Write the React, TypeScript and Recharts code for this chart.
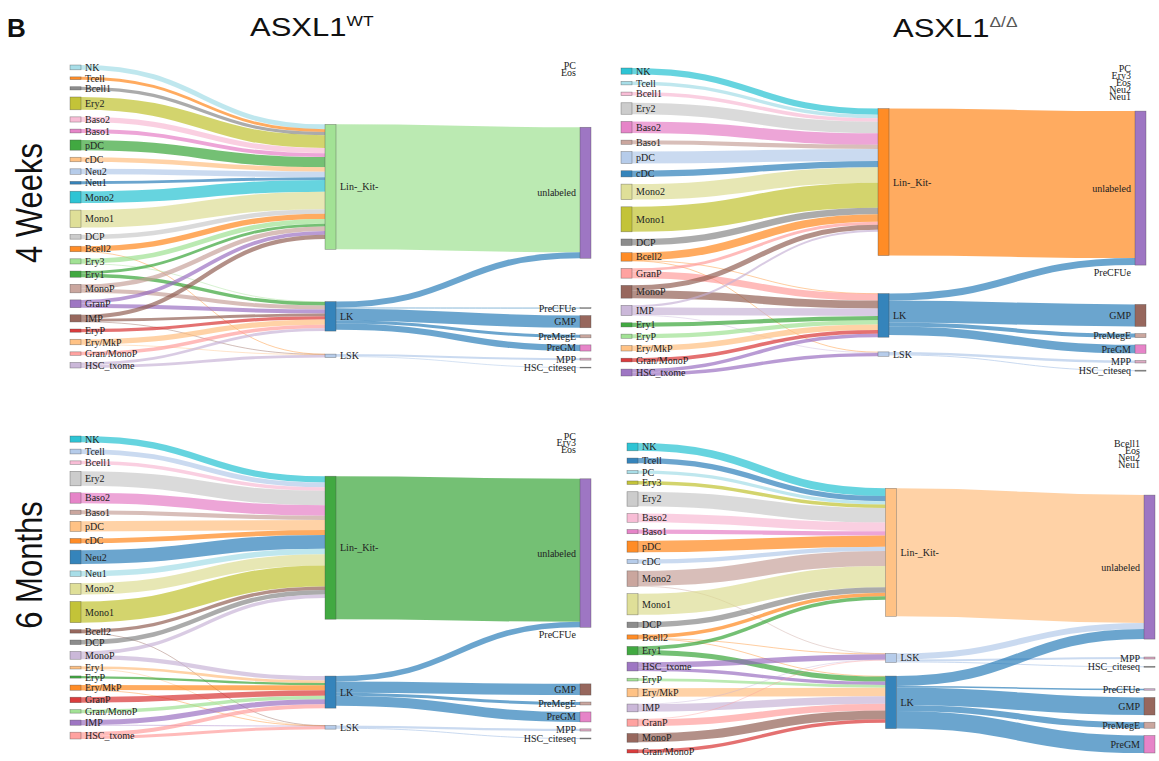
import React from 'react';
import { Sankey } from 'recharts';

// tab20 palette
const C = {
  blue: '#1f77b4', lblue: '#aec7e8', orange: '#ff7f0e', lorange: '#ffbb78',
  green: '#2ca02c', lgreen: '#98df8a', red: '#d62728', lred: '#ff9896',
  purple: '#9467bd', lpurple: '#c5b0d5', brown: '#8c564b', lbrown: '#c49c94',
  pink: '#e377c2', lpink: '#f7b6d2', gray: '#7f7f7f', lgray: '#c7c7c7',
  olive: '#bcbd22', lolive: '#dbdb8d', cyan: '#17becf', lcyan: '#9edae5',
  mpp: '#d8a2bc', precfue: '#c6a4c8',
};

type Flow = [string, string, number];

// ---------- ASXL1 WT, 4 weeks ----------
const wt4Sources = ['NK', 'Tcell', 'Bcell1', 'Ery2', 'Baso2', 'Baso1', 'pDC', 'cDC', 'Neu2', 'Neu1', 'Mono2', 'Mono1', 'DCP', 'Bcell2', 'Ery3', 'Ery1', 'MonoP', 'GranP', 'IMP', 'EryP', 'Ery/MkP', 'Gran/MonoP', 'HSC_txome'];
const wt4SourceColors = [C.lcyan, C.orange, C.gray, C.olive, C.lpink, C.pink, C.green, C.lorange, C.lblue, C.blue, C.cyan, C.lolive, C.lgray, C.orange, C.lgreen, C.green, C.lbrown, C.purple, C.brown, C.red, C.lorange, C.lred, C.lpurple];
const wt4Gates = ['Lin-_Kit-', 'LK', 'LSK'];
const wt4GateColors = [C.lgreen, C.blue, C.lblue];
const wt4Targets = ['PC', 'Eos', 'unlabeled', 'PreCFUe', 'GMP', 'PreMegE', 'PreGM', 'MPP', 'HSC_citeseq'];
const wt4TargetColors = [C.lgray, C.lgray, C.purple, C.gray, C.brown, C.lbrown, C.pink, C.mpp, C.gray];
const wt4Entry: Flow[] = [
  ['NK', 'Lin-_Kit-', 4.8], ['Tcell', 'Lin-_Kit-', 2.8], ['Bcell1', 'Lin-_Kit-', 3.2], ['Ery2', 'Lin-_Kit-', 12.8],
  ['Baso2', 'Lin-_Kit-', 5.2], ['Baso1', 'Lin-_Kit-', 3.8], ['pDC', 'Lin-_Kit-', 10.2], ['cDC', 'Lin-_Kit-', 4.5],
  ['Neu2', 'Lin-_Kit-', 5.5], ['Neu1', 'Lin-_Kit-', 2.8], ['Mono2', 'Lin-_Kit-', 11.8], ['Mono1', 'Lin-_Kit-', 17.5],
  ['DCP', 'Lin-_Kit-', 4.5], ['Bcell2', 'Lin-_Kit-', 5.3], ['Bcell2', 'LSK', 0.2], ['Ery3', 'Lin-_Kit-', 4.7],
  ['Ery3', 'LK', 0.5], ['Ery1', 'Lin-_Kit-', 2.8], ['Ery1', 'LK', 3.4], ['MonoP', 'Lin-_Kit-', 4.5], ['MonoP', 'LK', 4],
  ['GranP', 'Lin-_Kit-', 3.8], ['GranP', 'LK', 4], ['IMP', 'Lin-_Kit-', 4.2], ['IMP', 'LK', 2.8], ['IMP', 'LSK', 0.2],
  ['EryP', 'LK', 3.2], ['Ery/MkP', 'LK', 5.3], ['Ery/MkP', 'LSK', 0.2], ['Gran/MonoP', 'LK', 3.5],
  ['HSC_txome', 'LK', 2.8], ['HSC_txome', 'LSK', 2.8],
];
const wt4Exit: Flow[] = [
  ['Lin-_Kit-', 'unlabeled', 125], ['LK', 'unlabeled', 6], ['LK', 'PreCFUe', 0.8], ['LK', 'GMP', 12.2],
  ['LK', 'PreMegE', 3], ['LK', 'PreGM', 6.2], ['LSK', 'MPP', 2], ['LSK', 'HSC_citeseq', 0.8],
];

// ---------- ASXL1 Δ/Δ, 4 weeks ----------
const ko4Sources = ['NK', 'Tcell', 'Bcell1', 'Ery2', 'Baso2', 'Baso1', 'pDC', 'cDC', 'Mono2', 'Mono1', 'DCP', 'Bcell2', 'GranP', 'MonoP', 'IMP', 'Ery1', 'EryP', 'Ery/MkP', 'Gran/MonoP', 'HSC_txome'];
const ko4SourceColors = [C.cyan, C.lcyan, C.lpink, C.lgray, C.pink, C.lbrown, C.lblue, C.blue, C.lolive, C.olive, C.gray, C.orange, C.lred, C.brown, C.lpurple, C.green, C.lgreen, C.lorange, C.red, C.purple];
const ko4Gates = ['Lin-_Kit-', 'LK', 'LSK'];
const ko4GateColors = [C.orange, C.blue, C.lblue];
const ko4Targets = ['PC', 'Ery3', 'Eos', 'Neu2', 'Neu1', 'unlabeled', 'PreCFUe', 'GMP', 'PreMegE', 'PreGM', 'MPP', 'HSC_citeseq'];
const ko4TargetColors = [C.lgray, C.lgray, C.lgray, C.lgray, C.lgray, C.purple, C.gray, C.brown, C.lbrown, C.pink, C.mpp, C.gray];
const ko4Entry: Flow[] = [
  ['NK', 'Lin-_Kit-', 6.2], ['Tcell', 'Lin-_Kit-', 3.5], ['Bcell1', 'Lin-_Kit-', 3.5], ['Ery2', 'Lin-_Kit-', 11.5],
  ['Baso2', 'Lin-_Kit-', 11.5], ['Baso1', 'Lin-_Kit-', 4.2], ['pDC', 'Lin-_Kit-', 12], ['cDC', 'Lin-_Kit-', 6.2],
  ['Mono2', 'Lin-_Kit-', 15.5], ['Mono1', 'Lin-_Kit-', 25], ['DCP', 'Lin-_Kit-', 6.5],
  ['Bcell2', 'Lin-_Kit-', 7.7], ['Bcell2', 'LK', 0.25], ['Bcell2', 'LSK', 0.55],
  ['GranP', 'Lin-_Kit-', 3], ['GranP', 'LK', 6.8], ['MonoP', 'Lin-_Kit-', 5], ['MonoP', 'LK', 7.8],
  ['IMP', 'Lin-_Kit-', 2], ['IMP', 'LK', 7.7], ['IMP', 'LSK', 0.5], ['Ery1', 'LK', 4.2], ['EryP', 'LK', 4.2],
  ['Ery/MkP', 'LK', 5.5], ['Gran/MonoP', 'LK', 3.7], ['HSC_txome', 'LK', 3.5], ['HSC_txome', 'LSK', 3.4],
];
const ko4Exit: Flow[] = [
  ['Lin-_Kit-', 'unlabeled', 147], ['LK', 'unlabeled', 7], ['LK', 'GMP', 22], ['LK', 'PreMegE', 4],
  ['LK', 'PreGM', 8.5], ['LSK', 'MPP', 2.5], ['LSK', 'HSC_citeseq', 1],
];

// ---------- ASXL1 WT, 6 months ----------
const wt6Sources = ['NK', 'Tcell', 'Bcell1', 'Ery2', 'Baso2', 'Baso1', 'pDC', 'cDC', 'Neu2', 'Neu1', 'Mono2', 'Mono1', 'Bcell2', 'DCP', 'MonoP', 'Ery1', 'EryP', 'Ery/MkP', 'GranP', 'Gran/MonoP', 'IMP', 'HSC_txome'];
const wt6SourceColors = [C.cyan, C.lblue, C.lpink, C.lgray, C.pink, C.lbrown, C.lorange, C.orange, C.blue, C.lcyan, C.lolive, C.olive, C.brown, C.gray, C.lpurple, C.lorange, C.green, C.orange, C.red, C.lgreen, C.purple, C.lred];
const wt6Gates = ['Lin-_Kit-', 'LK', 'LSK'];
const wt6GateColors = [C.green, C.blue, C.lblue];
const wt6Targets = ['PC', 'Ery3', 'Eos', 'unlabeled', 'PreCFUe', 'GMP', 'PreMegE', 'PreGM', 'MPP', 'HSC_citeseq'];
const wt6TargetColors = [C.lgray, C.lgray, C.lgray, C.purple, C.gray, C.brown, C.lbrown, C.pink, C.mpp, C.gray];
const wt6Entry: Flow[] = [
  ['NK', 'Lin-_Kit-', 6.2], ['Tcell', 'Lin-_Kit-', 4.8], ['Bcell1', 'Lin-_Kit-', 3.5], ['Ery2', 'Lin-_Kit-', 14.5],
  ['Baso2', 'Lin-_Kit-', 10.5], ['Baso1', 'Lin-_Kit-', 4.2], ['pDC', 'Lin-_Kit-', 10.2], ['cDC', 'Lin-_Kit-', 4.8],
  ['Neu2', 'Lin-_Kit-', 13.8], ['Neu1', 'Lin-_Kit-', 5.5], ['Mono2', 'Lin-_Kit-', 11.2], ['Mono1', 'Lin-_Kit-', 21.2],
  ['Bcell2', 'Lin-_Kit-', 3.35], ['Bcell2', 'LSK', 0.15], ['DCP', 'Lin-_Kit-', 4.5],
  ['MonoP', 'Lin-_Kit-', 3.5], ['MonoP', 'LK', 4.3], ['Ery1', 'LK', 2.65], ['Ery1', 'LSK', 0.15],
  ['EryP', 'LK', 2.2], ['Ery/MkP', 'LK', 5.05], ['Ery/MkP', 'LSK', 0.15], ['GranP', 'LK', 5.5],
  ['Gran/MonoP', 'LK', 3.5], ['IMP', 'LK', 5.05], ['IMP', 'LSK', 0.15], ['HSC_txome', 'LK', 3.8], ['HSC_txome', 'LSK', 3],
];
const wt6Exit: Flow[] = [
  ['Lin-_Kit-', 'unlabeled', 143], ['LK', 'unlabeled', 5.5], ['LK', 'GMP', 11.2], ['LK', 'PreMegE', 3],
  ['LK', 'PreGM', 10], ['LSK', 'MPP', 2.2], ['LSK', 'HSC_citeseq', 1],
];

// ---------- ASXL1 Δ/Δ, 6 months ----------
const ko6Sources = ['NK', 'Tcell', 'PC', 'Ery3', 'Ery2', 'Baso2', 'Baso1', 'pDC', 'cDC', 'Mono2', 'Mono1', 'DCP', 'Bcell2', 'Ery1', 'HSC_txome', 'EryP', 'Ery/MkP', 'IMP', 'GranP', 'MonoP', 'Gran/MonoP'];
const ko6SourceColors = [C.cyan, C.blue, C.lcyan, C.olive, C.lgray, C.lpink, C.pink, C.orange, C.lblue, C.lbrown, C.lolive, C.gray, C.orange, C.green, C.purple, C.lgreen, C.lorange, C.lpurple, C.lred, C.brown, C.red];
const ko6Gates = ['Lin-_Kit-', 'LSK', 'LK'];
const ko6GateColors = [C.lorange, C.lblue, C.blue];
const ko6Targets = ['Bcell1', 'Eos', 'Neu2', 'Neu1', 'unlabeled', 'MPP', 'HSC_citeseq', 'PreCFUe', 'GMP', 'PreMegE', 'PreGM'];
const ko6TargetColors = [C.lgray, C.lgray, C.lgray, C.lgray, C.purple, C.mpp, C.gray, C.precfue, C.brown, C.lbrown, C.pink];
const ko6Entry: Flow[] = [
  ['NK', 'Lin-_Kit-', 7.8], ['Tcell', 'Lin-_Kit-', 5.2], ['PC', 'Lin-_Kit-', 3.2], ['Ery3', 'Lin-_Kit-', 3.5],
  ['Ery2', 'Lin-_Kit-', 14.5], ['Baso2', 'Lin-_Kit-', 8.8], ['Baso1', 'Lin-_Kit-', 4.2], ['pDC', 'Lin-_Kit-', 11.2],
  ['cDC', 'Lin-_Kit-', 4.2], ['Mono2', 'Lin-_Kit-', 15.1], ['Mono2', 'LSK', 0.4], ['Mono1', 'Lin-_Kit-', 21.2],
  ['DCP', 'Lin-_Kit-', 5.5], ['Bcell2', 'Lin-_Kit-', 3.5], ['Bcell2', 'LSK', 0.3], ['Bcell2', 'LK', 0.5],
  ['Ery1', 'Lin-_Kit-', 3.5], ['Ery1', 'LK', 5], ['HSC_txome', 'LSK', 5.5], ['HSC_txome', 'LK', 3.3],
  ['EryP', 'LK', 2.8], ['Ery/MkP', 'LK', 8.5], ['IMP', 'LK', 7.5], ['IMP', 'LSK', 0.3],
  ['GranP', 'LK', 6.7], ['GranP', 'LSK', 0.4], ['MonoP', 'LK', 8.8], ['Gran/MonoP', 'LK', 3.5],
];
const ko6Exit: Flow[] = [
  ['Lin-_Kit-', 'unlabeled', 128], ['LSK', 'unlabeled', 6], ['LSK', 'MPP', 2], ['LSK', 'HSC_citeseq', 1],
  ['LK', 'unlabeled', 10], ['LK', 'PreCFUe', 1.5], ['LK', 'GMP', 17.5], ['LK', 'PreMegE', 6], ['LK', 'PreGM', 17.5],
];

interface PanelSpec {
  sources: string[]; sourceColors: string[];
  gates: string[]; gateColors: string[];
  targets: string[]; targetColors: string[];
  entry: Flow[]; exit: Flow[];
}

function buildData(p: PanelSpec) {
  const nodes = [
    ...p.sources.map((name, i) => ({ name, color: p.sourceColors[i], column: 0 })),
    ...p.gates.map((name, i) => ({ name, color: p.gateColors[i], column: 1 })),
    ...p.targets.map((name, i) => ({ name, color: p.targetColors[i], column: 2 })),
  ];
  const gOff = p.sources.length;
  const tOff = gOff + p.gates.length;
  const links = [
    ...p.entry.map(([s, t, v]) => {
      const si = p.sources.indexOf(s);
      return { source: si, target: gOff + p.gates.indexOf(t), value: v, color: p.sourceColors[si] };
    }),
    ...p.exit.map(([s, t, v]) => {
      const gi = p.gates.indexOf(s);
      return { source: gOff + gi, target: tOff + p.targets.indexOf(t), value: v, color: p.gateColors[gi] };
    }),
  ];
  return { nodes, links };
}

const LABEL_FONT = "'Liberation Serif', 'DejaVu Serif', serif";

const FlowNode = (props: any) => {
  const { x, y, width, height, payload } = props;
  const sink = payload.column === 2;
  return (
    <g>
      {height > 0.05 && (
        <rect x={x} y={y} width={width} height={height} fill={payload.color} fillOpacity={0.9}
          stroke="#444" strokeOpacity={0.55} strokeWidth={0.6} />
      )}
      <text x={sink ? x - 4 : x + width + 4} y={y + height / 2} dy="0.35em"
        textAnchor={sink ? 'end' : 'start'} fontSize={10} fontFamily={LABEL_FONT} fill="#222">
        {payload.name}
      </text>
    </g>
  );
};

const FlowLink = (props: any) => {
  const { sourceX, targetX, sourceY, targetY, sourceControlX, targetControlX, linkWidth, payload } = props;
  return (
    <path d={`M${sourceX},${sourceY}C${sourceControlX},${sourceY} ${targetControlX},${targetY} ${targetX},${targetY}`}
      fill="none" stroke={payload.color} strokeWidth={Math.max(linkWidth, 0.6)} strokeOpacity={0.66} />
  );
};

const M = { top: 12, right: 4, bottom: 8, left: 4 };

function FlowPanel({ spec, left, top, w, h }: { spec: PanelSpec; left: number; top: number; w: number; h: number }) {
  const data = buildData(spec);
  const leftTotal = spec.entry.reduce((s, f) => s + f[2], 0);
  const pad = (h - leftTotal) / (spec.sources.length - 1);
  return (
    <div style={{ position: 'absolute', left: left - M.left, top: top - M.top }}>
      <Sankey width={w + M.left + M.right} height={h + M.top + M.bottom} data={data} margin={M}
        nodeWidth={11} nodePadding={pad} iterations={32} sort={false} linkCurvature={0.5}
        node={<FlowNode />} link={<FlowLink />} />
    </div>
  );
}

const wt4: PanelSpec = { sources: wt4Sources, sourceColors: wt4SourceColors, gates: wt4Gates, gateColors: wt4GateColors, targets: wt4Targets, targetColors: wt4TargetColors, entry: wt4Entry, exit: wt4Exit };
const ko4: PanelSpec = { sources: ko4Sources, sourceColors: ko4SourceColors, gates: ko4Gates, gateColors: ko4GateColors, targets: ko4Targets, targetColors: ko4TargetColors, entry: ko4Entry, exit: ko4Exit };
const wt6: PanelSpec = { sources: wt6Sources, sourceColors: wt6SourceColors, gates: wt6Gates, gateColors: wt6GateColors, targets: wt6Targets, targetColors: wt6TargetColors, entry: wt6Entry, exit: wt6Exit };
const ko6: PanelSpec = { sources: ko6Sources, sourceColors: ko6SourceColors, gates: ko6Gates, gateColors: ko6GateColors, targets: ko6Targets, targetColors: ko6TargetColors, entry: ko6Entry, exit: ko6Exit };

const SANS = "'Liberation Sans', Arial, sans-serif";

export default function App() {
  return (
    <div style={{ position: 'absolute', left: 0, top: 0, width: 1159, height: 761, background: '#fff', overflow: 'hidden' }}>
      <svg width={1159} height={761} style={{ position: 'absolute', left: 0, top: 0 }}>
        <text x={7} y={37} fontSize={26} fontWeight="bold" fontFamily={SANS} fill="#111">B</text>
        <g transform="translate(250,36) scale(1.24,1)">
          <text x={0} y={0} fontSize={25} fontFamily={SANS} fill="#111">
            ASXL1<tspan dy={-10} fontSize={14}>WT</tspan>
          </text>
        </g>
        <g transform="translate(893,36.5) scale(1.24,1)">
          <text x={0} y={0} fontSize={25} fontFamily={SANS} fill="#111">
            ASXL1<tspan dy={-10} fontSize={14} fill="#555">Δ/Δ</tspan>
          </text>
        </g>
        <g transform="translate(42,203) scale(1.2,1) rotate(-90)">
          <text x={0} y={0} textAnchor="middle" fontSize={31} fontFamily={SANS} fill="#111">4 Weeks</text>
        </g>
        <g transform="translate(42,565) scale(1.2,1) rotate(-90)">
          <text x={0} y={0} textAnchor="middle" fontSize={31} fontFamily={SANS} fill="#111">6 Months</text>
        </g>
      </svg>
      <FlowPanel spec={wt4} left={70} top={65} w={521} h={303} />
      <FlowPanel spec={ko4} left={621} top={68} w={525} h={308} />
      <FlowPanel spec={wt6} left={70} top={436} w={521} h={303} />
      <FlowPanel spec={ko6} left={627} top={443} w={528} h={310} />
    </div>
  );
}
